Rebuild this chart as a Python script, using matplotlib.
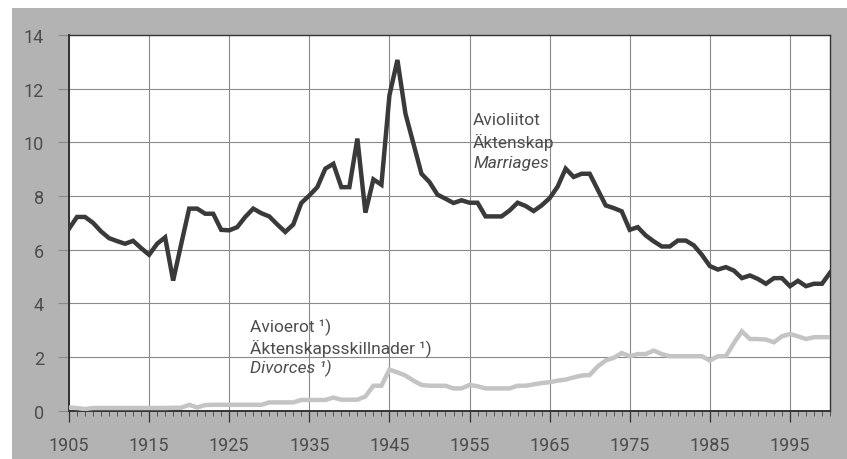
import numpy as np
import matplotlib
matplotlib.use("Agg")
import matplotlib.pyplot as plt
from matplotlib.patches import Rectangle
from matplotlib.ticker import MultipleLocator

plt.rcParams['font.family'] = ['Roboto', 'DejaVu Sans']

years = np.arange(1905, 2001)

# Marriages per 1000 inhabitants
marriages = [
    6.78, 7.22, 7.22, 7.00, 6.68, 6.43, 6.32, 6.22, 6.33, 6.06,   # 1905-1914
    5.81, 6.22, 6.46, 4.85, 6.20, 7.53, 7.53, 7.34, 7.34, 6.74,   # 1915-1924
    6.72, 6.84, 7.22, 7.53, 7.36, 7.24, 6.94, 6.66, 6.94, 7.74,   # 1925-1934
    8.02, 8.33, 9.02, 9.20, 8.33, 8.33, 10.14, 7.38, 8.62, 8.42,  # 1935-1944
    11.75, 13.07, 11.07, 9.95, 8.83, 8.52, 8.05, 7.90, 7.74, 7.84,  # 1945-1954
    7.75, 7.75, 7.24, 7.24, 7.24, 7.46, 7.75, 7.63, 7.44, 7.65,   # 1955-1964
    7.92, 8.35, 9.02, 8.71, 8.83, 8.83, 8.24, 7.65, 7.55, 7.43,   # 1965-1974
    6.74, 6.84, 6.53, 6.31, 6.12, 6.12, 6.34, 6.34, 6.16, 5.81,   # 1975-1984
    5.39, 5.26, 5.35, 5.22, 4.94, 5.04, 4.91, 4.73, 4.94, 4.94,   # 1985-1994
    4.64, 4.84, 4.64, 4.73, 4.73, 5.14,                           # 1995-2000
]

# Divorces per 1000 inhabitants
divorces = [
    0.12, 0.10, 0.06, 0.10, 0.10, 0.10, 0.10, 0.10, 0.10, 0.10,   # 1905-1914
    0.10, 0.10, 0.10, 0.11, 0.11, 0.22, 0.12, 0.21, 0.22, 0.22,   # 1915-1924
    0.22, 0.22, 0.22, 0.22, 0.22, 0.31, 0.31, 0.31, 0.31, 0.40,   # 1925-1934
    0.40, 0.40, 0.40, 0.49, 0.41, 0.41, 0.41, 0.53, 0.93, 0.93,   # 1935-1944
    1.53, 1.43, 1.31, 1.12, 0.96, 0.93, 0.93, 0.93, 0.83, 0.83,   # 1945-1954
    0.96, 0.91, 0.83, 0.83, 0.83, 0.83, 0.93, 0.93, 0.98, 1.03,   # 1955-1964
    1.06, 1.12, 1.16, 1.24, 1.31, 1.33, 1.65, 1.87, 1.97, 2.15,   # 1965-1974
    2.03, 2.11, 2.11, 2.24, 2.11, 2.03, 2.03, 2.03, 2.03, 2.03,   # 1975-1984
    1.87, 2.03, 2.03, 2.52, 2.96, 2.67, 2.67, 2.65, 2.55, 2.77,   # 1985-1994
    2.86, 2.77, 2.67, 2.74, 2.74, 2.74,                           # 1995-2000
]

yticks = [0, 2, 4, 6, 8, 10, 12, 14]
xticks = list(range(1905, 2000, 10))

txt = '#4d4d4d'
fs = 12.5

fig = plt.figure(figsize=(8.47, 4.60), dpi=100)
# grey frame behind the plot
fig.patches.append(Rectangle((12 / 847, 0), 1 - 12 / 847, 1 - 9 / 460,
                             transform=fig.transFigure, facecolor='#b3b3b3',
                             edgecolor='none', zorder=-10))

ax = fig.add_axes([69 / 847, 1 - 411.7 / 460, (830 - 69) / 847, (411.7 - 36) / 460])
ax.set_facecolor('white')

ax.plot(years, divorces, color='#c4c4c4', lw=3.2, solid_joinstyle='miter', zorder=3)
ax.plot(years, marriages, color='#3a3a3a', lw=3.2, solid_joinstyle='miter', zorder=4)

ax.set_xlim(1905, 2000)
ax.set_ylim(0, 14)
ax.set_xticks(xticks)
ax.set_yticks(yticks)
ax.xaxis.set_minor_locator(MultipleLocator(1))

ax.grid(True, which='major', color='#8a8a8a', lw=0.8)
ax.set_axisbelow(True)

for s in ax.spines.values():
    s.set_color('#333333')
    s.set_linewidth(1.0)
ax.spines['left'].set_linewidth(1.4)
ax.spines['bottom'].set_linewidth(1.4)

ax.tick_params(axis='y', which='major', length=8, width=0.8, color='#8a8a8a',
               pad=10, labelsize=13, labelcolor=txt)
ax.tick_params(axis='x', which='major', length=8, width=0.9, color='#333333',
               pad=10, labelsize=13, labelcolor=txt)
ax.tick_params(axis='x', which='minor', length=3.5, width=0.7, color='#555555')

ax.text(1955.45, 10.85, 'Avioliitot', fontsize=fs, color=txt, va='center')
ax.text(1955.45, 10.05, 'Äktenskap', fontsize=fs, color=txt, va='center')
ax.text(1955.45, 9.25, 'Marriages', fontsize=fs, color=txt, va='center', style='italic')

ax.text(1927.6, 3.16, 'Avioerot ¹)', fontsize=fs, color=txt, va='center')
ax.text(1927.6, 2.38, 'Äktenskapsskillnader ¹)', fontsize=fs, color=txt, va='center')
ax.text(1927.6, 1.60, 'Divorces ¹)', fontsize=fs, color=txt, va='center', style='italic')

fig.savefig('out.png', dpi=100)
